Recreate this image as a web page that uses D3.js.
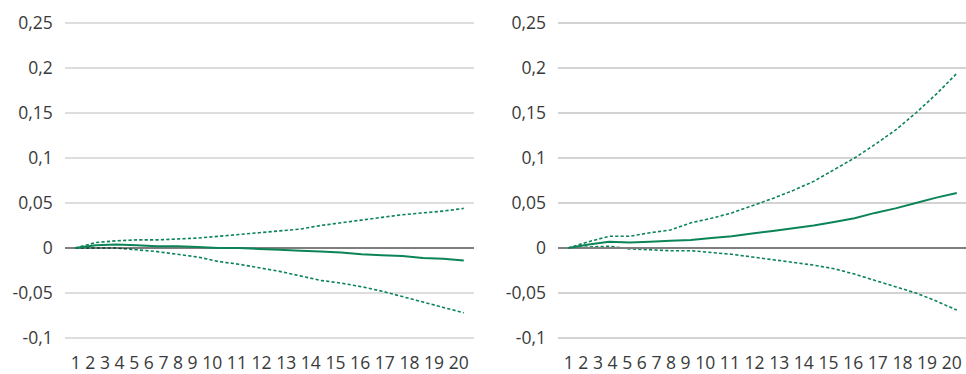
<!DOCTYPE html>
<html>
<head>
<meta charset="utf-8">
<script src="https://cdn.jsdelivr.net/npm/d3@7"></script>
<style>
  html, body { margin: 0; padding: 0; background: #fff; }
  svg { display: block; font-family: "Open Sans", "Noto Sans", sans-serif; }
</style>
</head>
<body>
<svg id="chart" width="966" height="374"></svg>
<script>
// ---- data ----
const categories = ["1","2","3","4","5","6","7","8","9","10","11","12","13","14","15","16","17","18","19","20"];
const yTicks = [-0.1, -0.05, 0, 0.05, 0.1, 0.15, 0.2, 0.25];
const yTickLabels = ["-0,1", "-0,05", "0", "0,05", "0,1", "0,15", "0,2", "0,25"];

const leftCentral = [0, 0.003, 0.004, 0.003, 0.002, 0.002, 0.001, 0.000, 0.000, -0.001, -0.002, -0.003, -0.004, -0.005, -0.007, -0.008, -0.009, -0.011, -0.012, -0.014];
const leftUpper   = [0, 0.006, 0.008, 0.009, 0.009, 0.010, 0.011, 0.013, 0.015, 0.017, 0.019, 0.021, 0.025, 0.028, 0.031, 0.034, 0.037, 0.039, 0.041, 0.044];
const leftLower   = [0, 0.000, 0.000, -0.002, -0.004, -0.007, -0.010, -0.015, -0.018, -0.022, -0.026, -0.031, -0.036, -0.039, -0.043, -0.048, -0.054, -0.060, -0.066, -0.072];

const rightCentral = [0, 0.004, 0.007, 0.006, 0.007, 0.008, 0.009, 0.011, 0.013, 0.016, 0.019, 0.022, 0.025, 0.029, 0.033, 0.039, 0.044, 0.050, 0.056, 0.061];
const rightUpper   = [0, 0.007, 0.013, 0.013, 0.017, 0.020, 0.028, 0.033, 0.039, 0.047, 0.055, 0.064, 0.074, 0.087, 0.100, 0.115, 0.131, 0.150, 0.171, 0.194];
const rightLower   = [0, 0.001, 0.002, -0.001, -0.002, -0.003, -0.003, -0.005, -0.007, -0.010, -0.013, -0.016, -0.019, -0.023, -0.029, -0.036, -0.043, -0.050, -0.059, -0.069];

// ---- drawing ----
const svg = d3.select("#chart");
const green = "#0b8457";
const textColor = "#3a3a3a";
const fontSize = 17.5;

const y = d3.scaleLinear().domain([-0.1, 0.25]).range([338, 23]);

const panels = [
  { x0: 65, x1: 474, labelRight: 52.7, zeroColor: "#000", zeroWidth: 1.2, gridColor: "#d2d2d2",
    central: leftCentral, upper: leftUpper, lower: leftLower },
  { x0: 558, x1: 967, labelRight: 546, zeroColor: "#7f7f7f", zeroWidth: 2.2, gridColor: "#c4c4c4",
    central: rightCentral, upper: rightUpper, lower: rightLower }
];

panels.forEach(p => {
  const g = svg.append("g");
  const x = d3.scaleBand().domain(categories).range([p.x0, p.x1]);
  const cx = c => x(c) + x.bandwidth() / 2;

  // gridlines
  g.selectAll("line.grid").data(yTicks.filter(t => t !== 0)).join("line")
    .attr("x1", p.x0).attr("x2", p.x1)
    .attr("y1", d => y(d)).attr("y2", d => y(d))
    .attr("stroke", p.gridColor).attr("stroke-width", 1.4);

  // y labels
  g.selectAll("text.ylab").data(yTicks).join("text")
    .attr("x", p.labelRight).attr("y", d => y(d))
    .attr("dy", "0.35em").attr("text-anchor", "end")
    .attr("font-size", fontSize).attr("fill", textColor)
    .text((d, i) => yTickLabels[i]);

  // x labels flowing as one text run
  const xt = g.append("text")
    .attr("x", cx(categories[0]) - 4.5).attr("y", 369)
    .attr("font-size", fontSize).attr("fill", textColor);
  categories.forEach((c, i) => {
    xt.append("tspan").text((i ? " " : "") + c);
  });
  const target = (cx(categories[categories.length - 1]) + 5) - (cx(categories[0]) - 4.5);
  xt.attr("textLength", target).attr("lengthAdjust", "spacing");

  const line = d3.line().x((d, i) => cx(categories[i])).y(d => y(d));

  g.append("path").datum(p.upper).attr("d", line)
    .attr("fill", "none").attr("stroke", green).attr("stroke-width", 1.6)
    .attr("stroke-dasharray", "3.2,2.2");
  g.append("path").datum(p.lower).attr("d", line)
    .attr("fill", "none").attr("stroke", green).attr("stroke-width", 1.6)
    .attr("stroke-dasharray", "3.2,2.2");

  // zero line
  g.append("line").attr("x1", p.x0).attr("x2", p.x1)
    .attr("y1", y(0)).attr("y2", y(0))
    .attr("stroke", p.zeroColor).attr("stroke-width", p.zeroWidth);

  g.append("path").datum(p.central).attr("d", line)
    .attr("fill", "none").attr("stroke", green).attr("stroke-width", 2);
});
</script>
</body>
</html>
